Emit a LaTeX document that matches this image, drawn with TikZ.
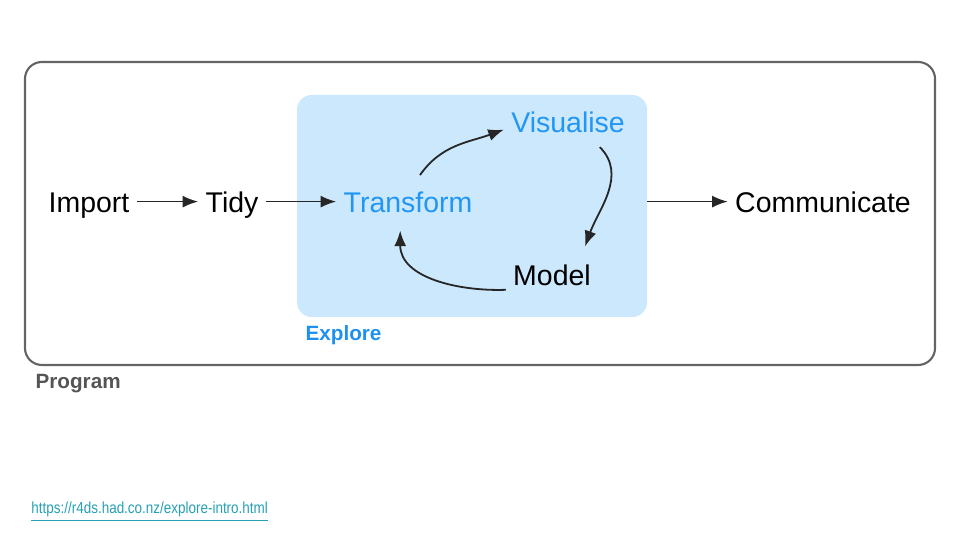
\documentclass[tikz,border=0pt]{standalone}
\usepackage{fontspec}
\setmainfont{Liberation Sans}
\newfontfamily\linkfont[FakeStretch=0.84]{Liberation Sans}
\usepackage{tikz}
\usetikzlibrary{positioning, arrows.meta}
\usepackage{xcolor}
\definecolor{stepblue}{RGB}{33,150,243}
\definecolor{exploreblue}{RGB}{30,144,240}
\definecolor{explorefill}{RGB}{204,232,252}
\definecolor{framegray}{RGB}{100,100,100}
\definecolor{labelgray}{RGB}{85,85,85}
\definecolor{linkteal}{RGB}{38,160,180}

\begin{document}
\begin{tikzpicture}[
    step label/.style={font=\fontsize{13.5}{15}\selectfont, text height=10pt, text depth=3pt},
    flow/.style={-{Latex[length=2.6mm,width=2mm]}, line width=0.85pt, black!85},
    box label/.style={font=\bfseries\fontsize{9.8}{11}\selectfont, anchor=west}
]
            \useasboundingbox (0,0) rectangle (16,9);

            % Program frame and Explore area
            \node[draw=framegray, line width=1pt, rounded corners=8pt,
                  minimum width=15.167cm, minimum height=5.05cm] (program) at (8.0,5.442) {};
            \node[fill=explorefill, rounded corners=7pt,
                  minimum width=5.833cm, minimum height=3.7cm] (explore) at (7.867,5.567) {};
            \node[box label, text=labelgray] (programlabel) at (0.47,2.6) {Program};
            \node[box label, text=exploreblue] (explorelabel) at (4.97,3.41) {Explore};

            % Steps
            \node[step label] (import) at (1.483,5.58) {Import};
            \node[step label] (tidy) at (3.867,5.58) {Tidy};
            \node[step label, text=stepblue] (transform) at (6.8,5.58) {Transform};
            \node[step label, text=stepblue] (visualise) at (9.467,6.92) {Visualise};
            \node[step label] (model) at (9.2,4.37) {Model};
            \node[step label] (communicate) at (13.717,5.58) {Communicate};

            % Straight arrows
            \draw[flow] ([yshift=0.06cm]import.east) -- ([yshift=0.06cm]tidy.west);
            \draw[flow] ([yshift=0.06cm]tidy.east) -- ([yshift=0.06cm]transform.west);
            \draw[flow] ([yshift=0.06cm]explore.east |- communicate.west) -- ([yshift=0.06cm]communicate.west);

            % Explore loop
            \draw[flow] ([shift={(0.2,0.15)}]transform.north) to[out=55,in=200] ([yshift=-0.08cm]visualise.west);
            \draw[flow] ([shift={(0.53,-0.02)}]visualise.south) to[out=-45,in=70] ([shift={(0.55,0.17)}]model.north);
            \draw[flow] ([yshift=-0.2cm]model.west) to[out=182,in=270] ([shift={(-0.13,-0.07)}]transform.south);

            % Source
            \node[anchor=west, text=linkteal, font=\linkfont\fontsize{7.6}{9}\selectfont] (source) at (0.4,0.47)
                {\underline{https://r4ds.had.co.nz/explore-intro.html}};
        \end{tikzpicture}
\end{document}
